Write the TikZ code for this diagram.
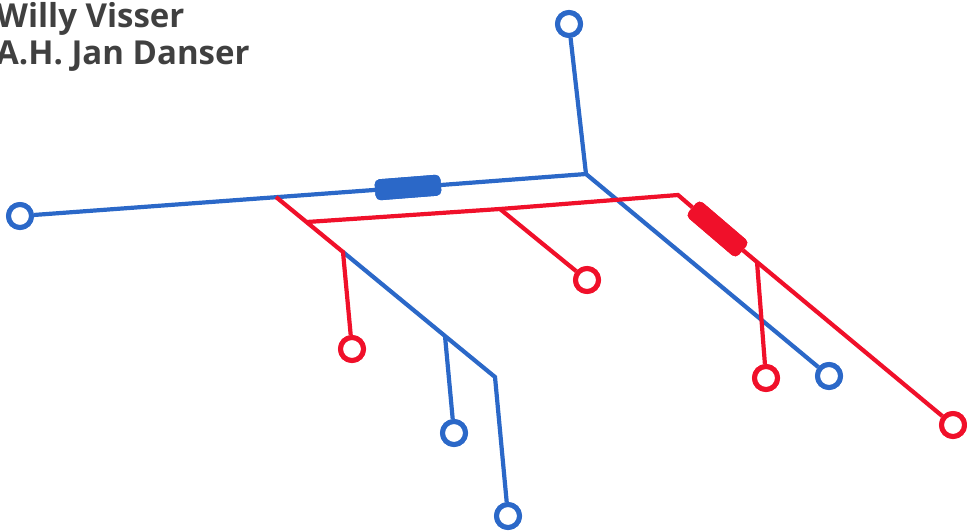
\documentclass[tikz,border=0pt]{standalone}
\usepackage{fontspec}
\newfontfamily\namefont{Open Sans}
\definecolor{lineblue}{HTML}{2B68C8}
\definecolor{linered}{HTML}{F0102A}
\definecolor{namegray}{HTML}{404040}
\begin{document}
\begin{tikzpicture}[x=1pt,y=-1pt,
  track/.style={line width=4.2pt,line join=miter},
  stop/.style={circle,draw=#1,fill=white,line width=5pt,minimum size=23pt,inner sep=0pt},
  bar/.style={rectangle,rounded corners=5pt,fill=#1,minimum width=66pt,minimum height=21pt,inner sep=0pt},
  namelabel/.style={font=\namefont\bfseries\fontsize{33}{37}\selectfont,text=namegray,anchor=base west,inner sep=0pt}]
\useasboundingbox (0,0) rectangle (967,532);

% names
\node[namelabel] (n1) at (-4,28) {Willy Visser};
\node[namelabel] (n2) at (-4,65) {A.H. Jan Danser};

% blue stops and junctions
\node[stop=lineblue] (bL) at (20,216) {};
\node[stop=lineblue] (bT) at (569,24) {};
\node[stop=lineblue] (bR) at (829,376) {};
\node[stop=lineblue] (bM) at (454,433) {};
\node[stop=lineblue] (bB) at (508,516) {};
\coordinate (bJ) at (586,174);
\coordinate (bS) at (343,252);
\coordinate (bK) at (445,336);
\coordinate (bC) at (495,377);
\node[bar=lineblue,rotate=4.5] (bBar) at (408,187.5) {};

% red stops and junctions
\node[stop=linered] (rA) at (352,349) {};
\node[stop=linered] (rB) at (587,280) {};
\node[stop=linered] (rC) at (766,378) {};
\node[stop=linered] (rD) at (953,425) {};
\coordinate (rS) at (276,197);
\coordinate (rK) at (343,252);
\coordinate (rH) at (307,222);
\coordinate (rM) at (500,209);
\coordinate (rE) at (678,195);
\coordinate (rJ) at (757,262);
\node[bar=linered,rotate=-40.5] (rBar) at (717.5,229) {};

% blue line
\begin{scope}[track,draw=lineblue]
  \draw (bL) -- (bBar) -- (bJ) -- (bT);
  \draw (bJ) -- (bR);
  \draw (bS) -- (bK) -- (bC) -- (bB);
  \draw (bK) -- (bM);
\end{scope}
\node[bar=lineblue,rotate=4.5] at (bBar) {};

% red line
\begin{scope}[track,draw=linered]
  \draw (rS) -- (rK) -- (rA);
  \draw (rH) -- (rM) -- (rE) -- (rBar) -- (rJ) -- (rD);
  \draw (rM) -- (rB);
  \draw (rJ) -- (rC);
\end{scope}
\node[bar=linered,rotate=-40.5] at (rBar) {};

% redraw stops above the tracks
\foreach \s in {bL,bT,bR,bM,bB}{\node[stop=lineblue] at (\s) {};}
\foreach \s in {rA,rB,rC,rD}{\node[stop=linered] at (\s) {};}
\end{tikzpicture}
\end{document}
